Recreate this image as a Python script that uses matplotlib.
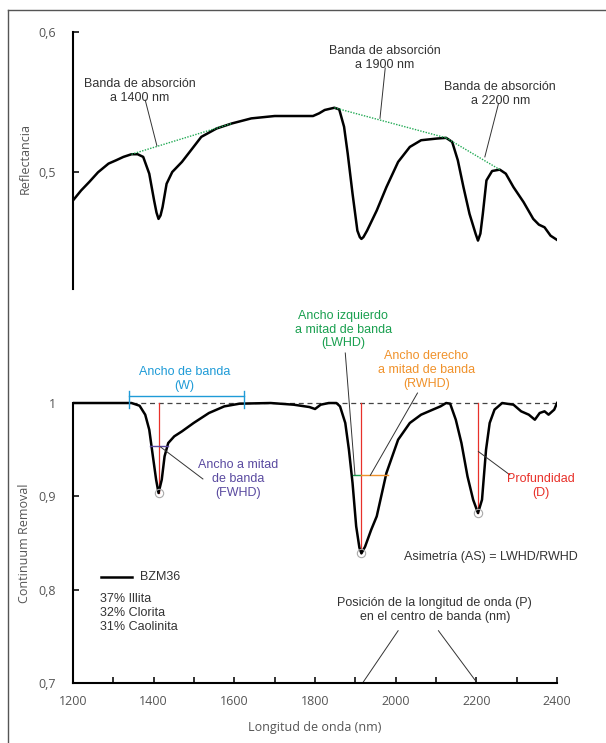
import matplotlib.pyplot as plt
from matplotlib.lines import Line2D

plt.rcParams['font.family'] = ['Liberation Sans', 'DejaVu Sans']

# Reflectance spectrum (top)
wl_top = [1200, 1220, 1240, 1262, 1288, 1307, 1325, 1345, 1360, 1374, 1389, 1401,
          1407, 1412, 1417, 1422, 1432, 1446, 1470, 1495, 1518, 1556, 1594, 1642,
          1700, 1795, 1810, 1824, 1848, 1860, 1872, 1881, 1893, 1905, 1911, 1915,
          1920, 1929, 1953, 1977, 2006, 2035, 2063, 2102, 2125, 2140, 2154, 2168,
          2183, 2198, 2204, 2210, 2216, 2225, 2239, 2258, 2273, 2292, 2317, 2341,
          2355, 2369, 2384, 2400]
refl_top = [0.4797, 0.4868, 0.4928, 0.4998, 0.5060, 0.5084, 0.5108, 0.5127, 0.5127,
            0.5108, 0.4988, 0.4797, 0.4710, 0.4665, 0.4690, 0.4749, 0.4916, 0.5000,
            0.5072, 0.5165, 0.5251, 0.5311, 0.5347, 0.5383, 0.5400, 0.5400, 0.5419,
            0.5443, 0.5459, 0.5447, 0.5323, 0.5132, 0.4845, 0.4581, 0.4535, 0.4522,
            0.4535, 0.4581, 0.4725, 0.4892, 0.5072, 0.5179, 0.5227, 0.5239, 0.5244,
            0.5215, 0.5084, 0.4892, 0.4701, 0.4560, 0.4510, 0.4560, 0.4701, 0.4940,
            0.5007, 0.5017, 0.4988, 0.4892, 0.4785, 0.4665, 0.4624, 0.4605, 0.4545,
            0.4515]

# continuum hull segments (green dotted)
hull_wl = [[1345, 1594], [1848, 2125], [2125, 2258]]
hull_r = [[0.5127, 0.5347], [0.5459, 0.5244], [0.5244, 0.5017]]

# Continuum removed spectrum (bottom)
wl_cr = [1200, 1300, 1345, 1365, 1379, 1389, 1398, 1406, 1412, 1420, 1427, 1436,
         1451, 1470, 1499, 1537, 1575, 1613, 1690, 1747, 1786, 1800, 1814, 1834,
         1853, 1862, 1875, 1884, 1893, 1902, 1910, 1915, 1924, 1939, 1953, 1977,
         2006, 2035, 2063, 2092, 2111, 2125, 2135, 2149, 2163, 2178, 2192, 2204,
         2214, 2224, 2233, 2245, 2264, 2292, 2311, 2330, 2345, 2357, 2369, 2379,
         2393, 2400]
cr = [1.0, 1.0, 1.0, 0.9971, 0.9875, 0.9714, 0.9429, 0.9179, 0.9036, 0.9179, 0.9429,
      0.9571, 0.9643, 0.9696, 0.9786, 0.9893, 0.9964, 0.9993, 1.0, 0.9982, 0.9957,
      0.9936, 0.9982, 1.0, 1.0, 0.9964, 0.9786, 0.95, 0.9143, 0.8679, 0.8450, 0.8389,
      0.846, 0.8639, 0.8786, 0.925, 0.9607, 0.9786, 0.9875, 0.9929, 0.9964, 1.0,
      0.9993, 0.9821, 0.9571, 0.9214, 0.8964, 0.8821, 0.8964, 0.95, 0.9786, 0.9929,
      1.0, 0.9982, 0.9911, 0.9875, 0.9821, 0.9893, 0.9911, 0.9875, 0.9929, 1.0]

band_centers = [1412, 1915, 2204]
band_minima = [0.9036, 0.8389, 0.8821]

fig = plt.figure(figsize=(6.06, 7.43), dpi=100)
fig.add_artist(Line2D([8 / 606, 8 / 606], [0, 1 - 10 / 743], color='#555555', lw=1.0))
fig.add_artist(Line2D([8 / 606, 1], [1 - 10 / 743, 1 - 10 / 743], color='#555555', lw=1.0))

tick_kw = dict(direction='in', length=4, width=1.4, labelsize=9, labelcolor='#555555',
               color='#333333')
txt = '#333333'

# ---- top panel ----
ax1 = fig.add_axes([0.1205, 0.611, 0.7987, 0.3459])
ax1.plot(wl_top, refl_top, color='black', lw=1.8, solid_joinstyle='round')
for xs, ys in zip(hull_wl, hull_r):
    ax1.plot(xs, ys, color='#22aa55', lw=1.0, ls=(0, (1, 1)))
ax1.set_xlim(1200, 2400)
ax1.set_ylim(0.4164, 0.6)
for s in ['top', 'right', 'bottom']:
    ax1.spines[s].set_visible(False)
ax1.spines['left'].set_linewidth(1.5)
ax1.set_xticks([])
ax1.set_yticks([0.5, 0.6])
ax1.set_yticklabels(['0,5', '0,6'], family='Open Sans')
ax1.tick_params(axis='y', pad=12, **tick_kw)

ax1.text(1366, 0.558, 'Banda de absorción\na 1400 nm', ha='center', va='center',
         fontsize=9, color=txt, linespacing=1.2)
ax1.plot([1379, 1408], [0.5514, 0.5187], color='#333333', lw=0.7)
ax1.text(1972, 0.5816, 'Banda de absorción\na 1900 nm', ha='center', va='center',
         fontsize=9, color=txt, linespacing=1.2)
ax1.plot([1974, 1961], [0.5742, 0.5383], color='#333333', lw=0.7)
ax1.text(2259, 0.5557, 'Banda de absorción\na 2200 nm', ha='center', va='center',
         fontsize=9, color=txt, linespacing=1.2)
ax1.plot([2255, 2221], [0.5490, 0.5108], color='#333333', lw=0.7)

# ---- bottom panel ----
ax2 = fig.add_axes([0.1205, 0.0808, 0.7987, 0.502])
ax2.set_xlim(1200, 2400)
ax2.set_ylim(0.7, 1.0997)
for s in ['top', 'right']:
    ax2.spines[s].set_visible(False)
ax2.spines['left'].set_bounds(0.7, 1.0)
ax2.spines['left'].set_linewidth(1.5)
ax2.spines['bottom'].set_linewidth(1.5)
ax2.set_xticks(range(1200, 2401, 100))
ax2.set_xticklabels([str(v) if v % 200 == 0 else '' for v in range(1200, 2401, 100)],
                    family='Open Sans')
ax2.set_yticks([0.7, 0.8, 0.9, 1.0])
ax2.set_yticklabels(['0,7', '0,8', '0,9', '1'], family='Open Sans')
ax2.tick_params(axis='y', pad=12, **tick_kw)
ax2.tick_params(axis='x', pad=9, **tick_kw)

ax2.plot([1345, 2400], [1.0, 1.0], color='#444444', lw=0.9, ls=(0, (4, 3)))
for c, m in zip(band_centers, band_minima):
    ax2.plot([c, c], [1.0, m], color='#e8312a', lw=0.9)
ax2.plot(wl_cr, cr, color='black', lw=1.8, solid_joinstyle='round')
ax2.plot(band_centers, band_minima, 'o', ms=6, mfc='none', mec='#aaaaaa', mew=0.8)

# band width (W)
blue = '#1f9bd7'
ax2.plot([1339, 1623], [1.0079, 1.0079], color=blue, lw=1.0)
ax2.plot([1339, 1339], [1.0125, 0.9946], color=blue, lw=1.0)
ax2.plot([1623, 1623], [1.0125, 0.9946], color=blue, lw=1.0)
ax2.text(1477, 1.026, 'Ancho de banda\n(W)', ha='center', va='center', fontsize=9,
         color=blue, linespacing=1.2)

# FWHD
purple = '#5a4aa0'
ax2.plot([1390, 1436], [0.9536, 0.9536], color=purple, lw=1.0)
ax2.plot([1417, 1522], [0.9529, 0.9186], color='#333333', lw=0.7)
ax2.text(1609, 0.9186, 'Ancho a mitad\nde banda\n(FWHD)', ha='center', va='center',
         fontsize=9, color=purple, linespacing=1.2)

# LWHD / RWHD
green = '#1aa050'
orange = '#f0922b'
ax2.plot([1893, 1915], [0.9225, 0.9225], color=green, lw=1.0)
ax2.plot([1915, 1982], [0.9225, 0.9225], color=orange, lw=1.0)
ax2.plot([1875, 1899], [1.0536, 0.923], color='#333333', lw=0.7)
ax2.text(1870, 1.0786, 'Ancho izquierdo\na mitad de banda\n(LWHD)', ha='center',
         va='center', fontsize=9, color=green, linespacing=1.2)
ax2.plot([2054, 1937], [1.0107, 0.9225], color='#333333', lw=0.7)
ax2.text(2076, 1.0357, 'Ancho derecho\na mitad de banda\n(RWHD)', ha='center',
         va='center', fontsize=9, color=orange, linespacing=1.2)

# depth
red = '#e8312a'
ax2.plot([2205, 2283], [0.948, 0.923], color='#333333', lw=0.7)
ax2.text(2360, 0.9113, 'Profundidad\n(D)', ha='center', va='center', fontsize=9,
         color=red, linespacing=1.2)

ax2.text(2020, 0.8346, 'Asimetría (AS) = LWHD/RWHD', ha='left', va='center',
         fontsize=9, color=txt)

# legend
ax2.plot([1269, 1345], [0.8132, 0.8132], color='black', lw=1.8)
ax2.text(1367, 0.8132, 'BZM36', ha='left', va='center', fontsize=9, color=txt)
for yy, s in zip([0.7896, 0.7746, 0.7603], ['37% Illita', '32% Clorita', '31% Caolinita']):
    ax2.text(1267, yy, s, ha='left', va='center', fontsize=9, color=txt)

# position
ax2.text(2097, 0.7779, 'Posición de la longitud de onda (P)\nen el centro de banda (nm)',
         ha='center', va='center', fontsize=9, color=txt, linespacing=1.2)
ax2.plot([2006, 1918], [0.756, 0.700], color='#333333', lw=0.7)
ax2.plot([2106, 2202], [0.756, 0.700], color='#333333', lw=0.7)

fig.text(0.041, 0.787, 'Reflectancia', rotation=90, ha='center', va='center',
         fontsize=9, color='#555555', family='Open Sans')
fig.text(0.041, 0.269, 'Continuum Removal', rotation=90, ha='center', va='center',
         fontsize=9, color='#555555', family='Open Sans')
fig.text(0.52, 0.0215, 'Longitud de onda (nm)', ha='center', va='center',
         fontsize=9, color='#555555', family='Open Sans')

fig.savefig('out.png', dpi=100)
